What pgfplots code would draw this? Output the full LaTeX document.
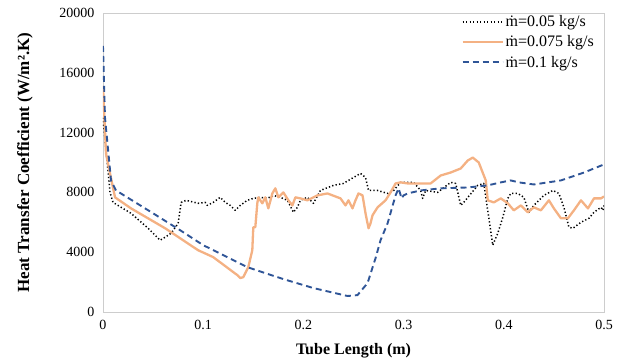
\documentclass[border=0pt]{standalone}
\usepackage{fontspec}
\setmainfont{Liberation Serif}
\usepackage{pgfplots}
\pgfplotsset{compat=1.18}
\definecolor{myorange}{RGB}{244,177,131}
\definecolor{myblue}{RGB}{47,85,151}
\definecolor{axgray}{RGB}{205,205,205}
\begin{document}
\begin{tikzpicture}
\path[use as bounding box] (0pt,0pt) rectangle (621pt,363pt);
\begin{axis}[
  at={(103pt,51pt)}, anchor=south west,
  scale only axis, width=501pt, height=299pt,
  xmin=0, xmax=0.5, ymin=0, ymax=20000,
  xtick={0,0.1,0.2,0.3,0.4,0.5},
  ytick={0,4000,8000,12000,16000,20000},
  scaled ticks=false,
  /pgf/number format/1000 sep={},
  /pgf/number format/assume math mode=true,
  axis line style={axgray, line width=0.8pt},
  tick style={draw=none},
  tick label style={font=\fontsize{14}{16}\selectfont},
  yticklabel style={xshift=-5pt},
  xticklabel style={yshift=-5pt},
  xlabel={Tube Length (m)},
  ylabel={Heat Transfer Coefficient (W/m².K)},
  xlabel style={font=\fontsize{16}{18}\selectfont\bfseries, at={(axis description cs:0.5,-0.1304)}, anchor=center},
  ylabel style={font=\fontsize{17}{20}\selectfont\bfseries, at={(axis description cs:-0.1557,0.5)}, anchor=center},
  legend style={at={(axis description cs:0.99,1.005)}, anchor=north east, draw=none, fill=none,
    font=\fontsize{16}{18}\selectfont, row sep=3.5pt},
  legend cell align=left,
  legend image code/.code={\draw[#1] (0pt,0pt) -- (40pt,0pt);},
]
\addplot[black, line width=1.5pt, dash pattern=on 1.3pt off 2.2pt, line join=round] coordinates {
(0,13000) (0.002,11500) (0.005,9470) (0.007,8000) (0.010,7330) (0.028,6600) (0.045,5600) (0.057,4800) (0.062,5000) (0.068,5270) (0.075,5930) (0.078,7330) (0.083,7470) (0.095,7270) (0.102,7330) (0.104,7130) (0.110,7330) (0.117,7670) (0.122,7330) (0.127,7130) (0.132,6800) (0.137,7130) (0.144,7470) (0.150,7600) (0.157,7670) (0.164,7600) (0.170,7800) (0.177,7670) (0.184,7470) (0.190,6670) (0.194,7000) (0.197,7470) (0.204,7670) (0.210,7270) (0.217,8130) (0.230,8470) (0.240,8600) (0.250,9000) (0.257,9270) (0.262,9000) (0.265,8130) (0.274,8130) (0.284,7930) (0.290,8130) (0.297,8670) (0.310,8670) (0.317,8130) (0.319,7600) (0.322,8130) (0.334,8000) (0.347,8670) (0.352,8600) (0.357,7130) (0.360,7330) (0.374,8470) (0.380,8600) (0.385,6330) (0.389,4470) (0.394,5270) (0.399,6330) (0.404,7600) (0.407,7930) (0.414,7930) (0.420,7670) (0.425,6670) (0.430,7130) (0.440,7800) (0.449,8130) (0.455,7930) (0.460,7000) (0.465,5670) (0.469,5600) (0.477,6000) (0.485,6270) (0.490,6670) (0.497,7000) (0.499,6800) (0.500,7130)
};
\addlegendentry{ṁ=0.05 kg/s}
\addplot[myorange, line width=2.3pt, line join=round] coordinates {
(0,15130) (0.003,10600) (0.007,9270) (0.012,7670) (0.028,6930) (0.062,5600) (0.095,4130) (0.110,3670) (0.134,2470) (0.137,2270) (0.140,2330) (0.145,3000) (0.149,4130) (0.150,5670) (0.152,5670) (0.154,7270) (0.155,7670) (0.159,7270) (0.162,7670) (0.165,6930) (0.169,7930) (0.172,8270) (0.175,7670) (0.180,8000) (0.185,7470) (0.189,7130) (0.192,7670) (0.197,7600) (0.204,7470) (0.214,7800) (0.224,7930) (0.237,7600) (0.242,7130) (0.245,7470) (0.249,6930) (0.252,7470) (0.255,7930) (0.259,7800) (0.262,6600) (0.265,5600) (0.267,5930) (0.269,6470) (0.274,7000) (0.282,7470) (0.287,8000) (0.292,8600) (0.297,8670) (0.304,8600) (0.310,8600) (0.327,8600) (0.337,9130) (0.347,9330) (0.357,9600) (0.364,10130) (0.369,10330) (0.375,10000) (0.382,8800) (0.384,7470) (0.390,7330) (0.397,7600) (0.404,7270) (0.410,6800) (0.417,7130) (0.424,6670) (0.430,7000) (0.437,6800) (0.445,7470) (0.450,6930) (0.457,6270) (0.464,6270) (0.470,6800) (0.477,7470) (0.484,6930) (0.490,7600) (0.497,7600) (0.500,7730)
};
\addlegendentry{ṁ=0.075 kg/s}
\addplot[myblue, line width=1.9pt, dash pattern=on 6pt off 4pt] coordinates {
(0,17800) (0.002,13000) (0.008,8800) (0.013,8130) (0.05,6600) (0.077,5470) (0.1,4470) (0.144,3000) (0.18,2200) (0.21,1600) (0.244,1070) (0.254,1130) (0.264,1930) (0.272,3600) (0.277,4800) (0.284,5930) (0.292,7800) (0.295,8270) (0.298,7600) (0.300,7800) (0.304,7930) (0.317,8130) (0.337,8270) (0.364,8330) (0.384,8470) (0.397,8670) (0.407,8800) (0.415,8670) (0.430,8530) (0.457,8800) (0.480,9330) (0.500,9870)
};
\addlegendentry{ṁ=0.1 kg/s}
\end{axis}
\end{tikzpicture}
\end{document}
